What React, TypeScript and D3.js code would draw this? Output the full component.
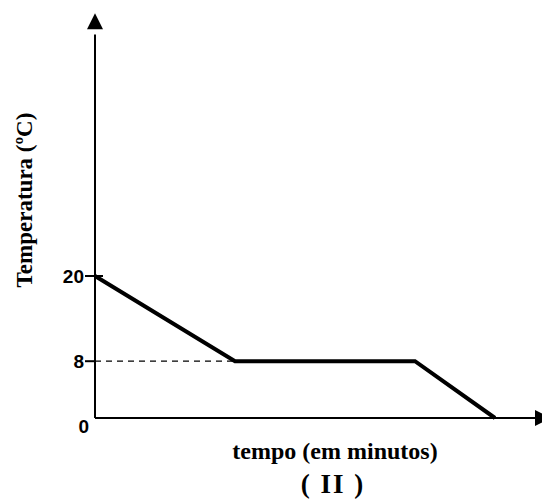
import React, { useEffect, useRef } from 'react';
import * as d3 from 'd3';

// time (minutes, estimated) and temperature (°C) of the curve
const timeValues = [0, 14, 32, 40];
const tempValues = [20, 8, 8, 0];
const tickLabels = ['0', '8', '20'];
const tickValues = [0, 8, 20];

const width = 542;
const height = 499;

const sansFont = "'Liberation Sans', Arial, Helvetica, sans-serif";
const serifFont = "'Liberation Serif', 'Times New Roman', serif";

export default function App() {
    const ref = useRef<SVGSVGElement>(null);

    useEffect(() => {
        document.body.style.margin = '0';
        const svg = d3.select(ref.current);
        svg.selectAll('*').remove();

        const x = d3.scaleLinear().domain([0, 45]).range([95, 545]);
        const y = d3.scaleLinear().domain([0, 20]).range([418, 276]);

        const x0 = x(0);
        const y0 = y(0);

        // axes
        svg.append('line')
            .attr('x1', x0).attr('y1', y0)
            .attr('x2', x0).attr('y2', y(54))
            .attr('stroke', '#000').attr('stroke-width', 2);
        svg.append('line')
            .attr('x1', x0).attr('y1', y0)
            .attr('x2', x(44)).attr('y2', y0)
            .attr('stroke', '#000').attr('stroke-width', 2);

        // arrow heads
        const tipY = y(57);
        svg.append('path')
            .attr('d', `M${x0},${tipY} L${x0 - 8},${tipY + 16} L${x0 + 8},${tipY + 16} Z`)
            .attr('fill', '#000');
        const baseX = x(44);
        svg.append('path')
            .attr('d', `M${baseX + 16},${y0} L${baseX},${y0 - 8} L${baseX},${y0 + 8} Z`)
            .attr('fill', '#000');

        // ticks
        svg.append('line')
            .attr('x1', x0 - 10).attr('x2', x0 + 8)
            .attr('y1', y(20)).attr('y2', y(20))
            .attr('stroke', '#000').attr('stroke-width', 2);
        svg.append('line')
            .attr('x1', x0 - 10).attr('x2', x0)
            .attr('y1', y(8)).attr('y2', y(8))
            .attr('stroke', '#000').attr('stroke-width', 2);

        // dashed guide at 8
        svg.append('line')
            .attr('x1', x0).attr('x2', x(timeValues[1]))
            .attr('y1', y(8)).attr('y2', y(8))
            .attr('stroke', '#000').attr('stroke-width', 1.3)
            .attr('stroke-dasharray', '6,5');

        // tick labels
        svg.selectAll('.tickLabel')
            .data(tickValues)
            .enter().append('text')
            .attr('class', 'tickLabel')
            .attr('x', (d: number) => d === 0 ? x0 - 6 : x0 - 11)
            .attr('y', (d: number) => d === 0 ? y(d) + 8 : y(d))
            .attr('dy', '0.36em')
            .attr('text-anchor', 'end')
            .style('font-family', sansFont)
            .attr('font-weight', 'bold')
            .attr('font-size', 19)
            .text((d: number, i: number) => tickLabels[i]);

        // curve
        const line = d3.line<number>()
            .x((d: number, i: number) => x(timeValues[i]))
            .y((d: number) => y(d));
        svg.append('path')
            .datum(tempValues)
            .attr('d', line)
            .attr('fill', 'none')
            .attr('stroke', '#000')
            .attr('stroke-width', 4);

        // axis titles
        svg.append('text')
            .attr('transform', 'translate(32,200) rotate(-90)')
            .attr('text-anchor', 'middle')
            .style('font-family', serifFont)
            .attr('font-weight', 'bold')
            .attr('font-size', 23)
            .text('Temperatura (ºC)');

        svg.append('text')
            .attr('x', 335).attr('y', 459)
            .attr('text-anchor', 'middle')
            .style('font-family', serifFont)
            .attr('font-weight', 'bold')
            .attr('font-size', 24)
            .text('tempo (em minutos)');

        svg.append('text')
            .attr('x', 333).attr('y', 493)
            .attr('text-anchor', 'middle')
            .style('font-family', serifFont)
            .attr('font-weight', 'bold')
            .attr('font-size', 27)
            .attr('letter-spacing', 2)
            .style('white-space', 'pre')
            .text('( II )');
    }, []);

    return (
        <svg ref={ref} width={width} height={height}
            style={{ position: 'absolute', left: 0, top: 0, background: '#fff' }} />
    );
}
